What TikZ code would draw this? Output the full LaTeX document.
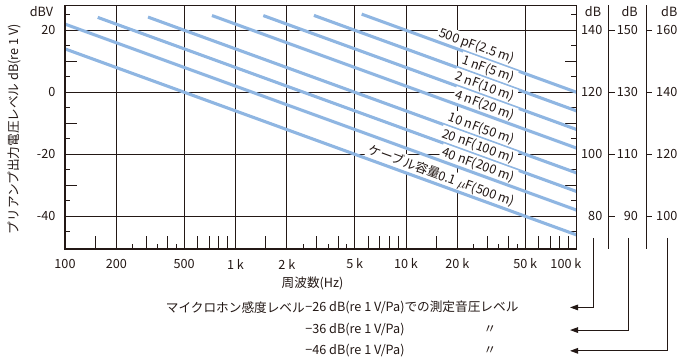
\documentclass[tikz,border=0pt]{standalone}
\usepackage{fontspec}
\setmainfont{Noto Sans CJK JP}
\usepackage{tikz}
\usetikzlibrary{arrows.meta}
\definecolor{ink}{RGB}{35,24,21}
\definecolor{cable}{RGB}{143,182,226}
\newcommand{\drawthin}{\draw[ink, line width=0.7pt]}
\newcommand{\drawframe}{\draw[ink, line width=1.4pt]}
\newcommand{\cablecurve}[4]{
    \node[cablelabel] (#4) at (2.628, {#2-52.56}) {#3};
    \draw[cable, line width=2.2pt] (#1, {#2-20*#1})--(3, {#2-60});
}
\tikzset{
    txt/.style={text=ink, font=\fontsize{9}{10}\selectfont, inner sep=1pt},
    cablelabel/.style={txt, fill=white, rotate=-20, anchor=south east, inner sep=1.5pt},
    arr/.style={ink, line width=0.7pt, -{Triangle[length=2mm, width=1.4mm]}}
}

\begin{document}
\begin{tikzpicture}[x=4.2625cm, y=0.0775cm]
\useasboundingbox (-0.3812,-85.71) rectangle (3.607,29.77);
\foreach \d in {0,1,2}{
    \foreach \m in {2,5,10}{
        \drawthin ({\d+log10(\m)},-50.5)--({\d+log10(\m)},28);
    }
    \foreach \m in {1.5,3,4,6,7,8,9}{
        \drawthin ({\d+log10(\m)},-50.5)--++(0,4.2);
    }
    \foreach \m in {2.5,3.5,4.5}{
        \drawthin ({\d+log10(\m)},-50.5)--++(0,1.6);
    }
}
\foreach \y in {-40,-20,0,20}{
    \drawthin (0,\y)--(3,\y);
}
\foreach \y in {10,-10,-30}{
    \drawthin (0,\y)--++(0.07,0);
    \drawthin (3,\y)--++(-0.07,0);
}
\foreach \y in {25,15,5,-5,-15,-25,-35,-45}{
    \drawthin (0,\y)--++(0.03,0);
    \drawthin (3,\y)--++(-0.03,0);
}
\foreach \xs/\lv/\txt/\nm in {1.740/60/{500 pF(2.5 m)}/c500p, 1.460/54/{1 nF(5 m)}/c1n, 1.163/48/{2 nF(10 m)}/c2n, 0.862/42/{4 nF(20 m)}/c4n, 0.487/34/{10 nF(50 m)}/c10n, 0.192/28/{20 nF(100 m)}/c20n, 0/22/{40 nF(200 m)}/c40n, 0/14/{ケーブル容量0.1 $\mu$F(500 m)}/c100n}{
    \cablecurve{\xs}{\lv}{\txt}{\nm}
}
\drawframe (0,-50.5) rectangle (3,28);
\draw[ink, line width=0.7pt] (3.19,-50.5)--(3.19,28);
\draw[ink, line width=0.7pt] (3.41,-50.5)--(3.41,28);
\node[txt, anchor=east] (dbv) at (-0.059,26.2) {dBV};
\node[txt] (dba) at (3.097,26.2) {dB};
\node[txt] (dbb) at (3.312,26.2) {dB};
\node[txt] (dbc) at (3.544,26.2) {dB};
\foreach \y in {20,0,-20,-40}{
    \node[txt, anchor=east] (left\y) at (-0.047,\y) {\y};
}
\foreach \y/\a/\b/\c in {20/140/150/160, 0/120/130/140, -20/100/110/120, -40/80/90/100}{
    \node[txt, anchor=east] (spla\y) at (3.161,\y) {\a};
    \drawthin (3.19,\y)--++(0.035,0);
    \node[txt, anchor=east] (splb\y) at (3.37,\y) {\b};
    \drawthin (3.41,\y)--++(0.035,0);
    \node[txt, anchor=east] (splc\y) at (3.601,\y) {\c};
}
\foreach \x/\t [count=\i] in {0/100, 0.30103/200, 0.69897/500, 1/1 k, 1.30103/2 k, 1.69897/5 k, 2/10 k, 2.30103/20 k, 2.69897/50 k, 2.938/100 k}{
    \node[txt] (freq\i) at (\x,-55.4) {\t};
}
\node[txt, rotate=90] (ytitle) at (-0.299,-11.9) {プリアンプ出力電圧レベル dB(re 1 V)};
\node[txt] (xtitle) at (1.452,-61.6) {周波数(Hz)};
\node[txt, anchor=east, inner sep=0pt] (mic) at (1.408,-69.4) {マイクロホン感度レベル};
\node[txt, anchor=west, inner sep=0pt] (spl26) at (1.408,-69.4) {−26 dB(re 1 V/Pa)での測定音圧レベル};
\node[txt, anchor=west, inner sep=0pt] (spl36) at (1.408,-76.7) {−36 dB(re 1 V/Pa)};
\node[txt, anchor=west, inner sep=0pt] (spl46) at (1.408,-83.4) {−46 dB(re 1 V/Pa)};
\node[txt] (ditto36) at (2.493,-76.7) {〃};
\node[txt] (ditto46) at (2.493,-83.4) {〃};
\coordinate (from80) at (3.097,-47);
\coordinate (from90) at (3.304,-47);
\coordinate (from100) at (3.533,-47);
\coordinate (to80) at (2.962,-69.4);
\coordinate (to90) at (2.962,-76.7);
\coordinate (to100) at (2.962,-83.4);
\draw[arr] (from80) |- (to80);
\draw[arr] (from90) |- (to90);
\draw[arr] (from100) |- (to100);
\end{tikzpicture}
\end{document}
